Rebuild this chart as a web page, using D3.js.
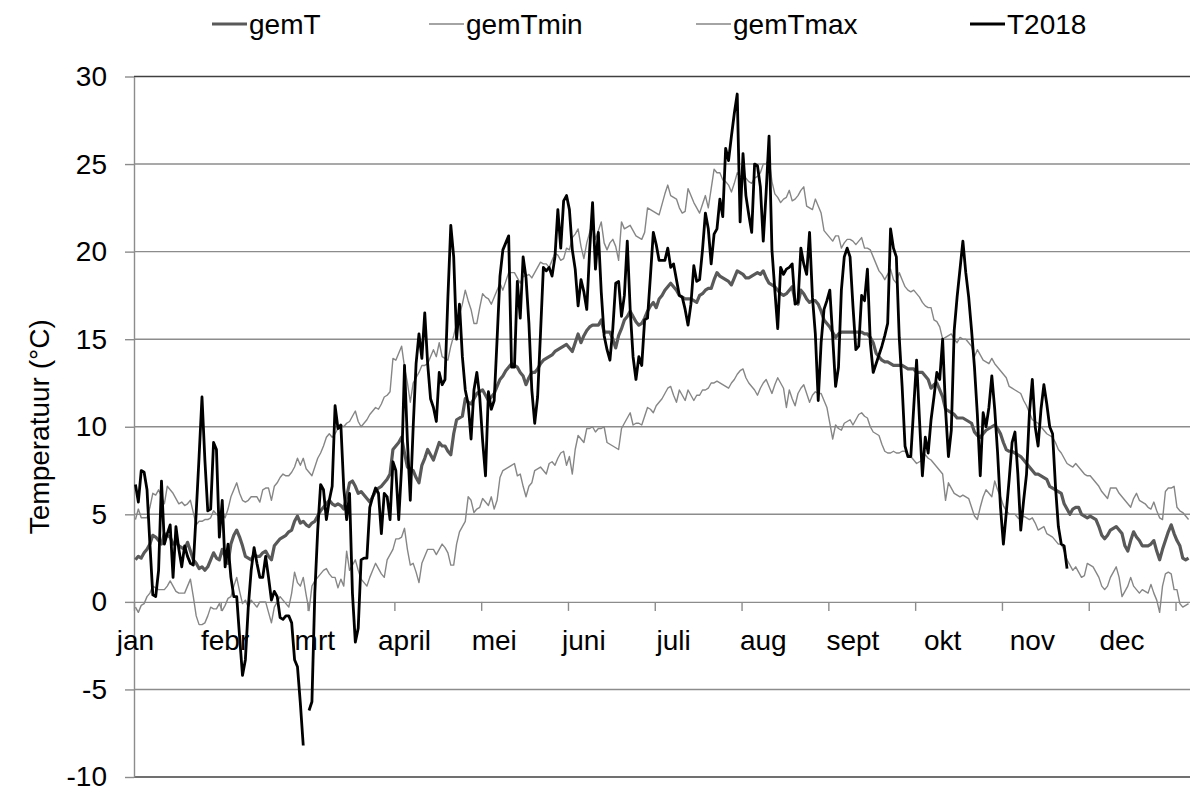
<!DOCTYPE html>
<html>
<head>
  <title>Temperatuur 2018</title>
  <script src="https://d3js.org/d3.v7.min.js"></script>
  <style>
    body, html {
      margin: 0;
      padding: 0;
      background: #fff;
      overflow: hidden;
    }
    text {
      font-family: "Liberation Sans", Arial, sans-serif;
      fill: #000;
    }
  </style>
</head>
<body>
  <div id="chart"></div>

  <script>
    // month labels (one label every 31 days on the category axis)
    const monthLabels = ["jan", "febr", "mrt", "april", "mei", "juni", "juli", "aug", "sept", "okt", "nov", "dec"];
    const yTicks = [-10, -5, 0, 5, 10, 15, 20, 25, 30];
    const seriesNames = ["gemT", "gemTmin", "gemTmax", "T2018"];

    // long-term daily mean
    const gemT = [
      2.4, 2.6, 2.5, 2.8, 3.0, 3.3, 3.8, 3.7, 3.5, 3.3,
      3.9, 3.8, 3.7, 3.3, 3.4, 3.2, 3.1, 3.0, 3.4, 2.9,
      2.4, 2.2, 1.9, 2.0, 1.8, 2.0, 2.4, 2.8, 2.5, 2.4,
      3.0, 2.6, 2.2, 3.3, 3.8, 4.1, 3.7, 3.2, 2.6, 2.5,
      2.4, 2.7, 2.6, 2.6, 2.8, 2.9, 2.6, 2.4, 3.2, 3.4,
      3.6, 3.7, 3.8, 4.0, 4.1, 4.6, 4.9, 4.5, 4.6, 4.4,
      4.3, 4.5, 4.6, 4.9, 5.2, 5.4, 5.6, 5.8, 5.6, 5.5,
      5.6, 5.5, 5.3, 6.0, 6.8, 6.9, 6.6, 6.2, 6.3, 6.1,
      5.9, 5.7, 6.0, 6.3, 6.5, 6.6, 6.8, 7.0, 7.3, 8.7,
      8.9, 9.1, 9.4, 8.5, 7.7, 7.6, 7.5, 7.1, 6.8, 7.8,
      8.2, 8.7, 8.4, 8.1, 8.6, 9.1, 8.9, 8.9, 8.6, 8.4,
      9.6, 10.4, 10.5, 10.6, 11.6, 11.4, 11.3, 11.6, 11.9, 12.0,
      12.1, 11.8, 11.5, 11.7, 11.9, 12.3, 12.7, 12.9, 13.2, 13.4,
      13.6, 13.5, 13.4, 13.1, 12.9, 12.4, 12.8, 13.1, 13.1, 13.3,
      13.6, 13.8, 13.9, 14.0, 14.1, 14.3, 14.4, 14.5, 14.6, 14.7,
      14.5, 14.3, 14.8, 15.3, 14.8, 15.2, 15.5, 15.7, 15.8, 15.8,
      15.8, 16.1, 15.4, 15.4, 15.4, 15.0, 14.5, 15.2, 15.6, 16.1,
      16.3, 16.6, 16.3, 16.0, 15.8, 15.9, 16.2, 16.6, 16.9, 17.1,
      16.8, 17.3, 17.5, 17.8, 18.0, 18.2, 18.0, 17.8, 17.5, 17.4,
      17.3, 17.3, 17.3, 17.2, 17.1, 17.5, 17.6, 17.8, 17.9, 17.9,
      18.4, 18.8, 18.6, 18.5, 18.4, 18.3, 18.1, 18.5, 18.9, 18.8,
      18.7, 18.5, 18.5, 18.6, 18.7, 18.8, 18.7, 18.9, 18.5, 18.2,
      18.1, 18.0, 17.8, 17.6, 17.5, 17.6, 17.8, 18.0, 17.2, 17.0,
      17.8, 17.6, 17.3, 17.1, 17.2, 17.2, 17.0, 16.6, 16.1, 15.9,
      15.7, 15.4, 15.1, 15.3, 15.4, 15.4, 15.4, 15.4, 15.4, 15.4,
      15.4, 15.4, 15.3, 15.3, 15.1, 14.8, 14.2, 14.0, 13.8, 13.7,
      13.7, 13.6, 13.5, 13.5, 13.5, 13.5, 13.4, 13.3, 13.3, 13.3,
      13.1, 13.1, 13.1, 12.9, 12.7, 12.2, 12.4, 12.5, 12.1, 11.7,
      11.0, 10.9, 10.8, 10.7, 10.5, 10.5, 10.5, 10.4, 10.3, 10.2,
      9.7, 9.5, 9.4, 9.6, 9.8, 9.9, 10.0, 10.1, 9.9, 9.6,
      9.1, 8.7, 8.6, 8.6, 8.5, 8.4, 8.3, 8.1, 7.9, 7.7,
      7.5, 7.3, 7.3, 7.2, 7.1, 7.0, 6.6, 6.5, 6.4, 6.3,
      6.2, 5.6, 5.3, 5.0, 5.3, 5.4, 5.4, 5.0, 4.9, 4.8,
      4.9, 4.8, 4.7, 4.3, 3.8, 3.6, 3.8, 4.1, 4.2, 4.3,
      4.1, 3.9, 3.2, 2.9, 3.5, 4.0, 3.7, 3.5, 3.2, 3.2,
      3.2, 3.3, 3.5, 2.9, 2.4, 3.0, 3.5, 4.0, 4.4, 3.9,
      3.5, 3.2, 2.5, 2.4, 2.5
    ];

    // long-term daily minimum
    const gemTmin = [
      -0.3, -0.6, -0.2, -0.1, 0.3, 0.5, 0.9, 0.8, 0.7, 0.7,
      0.7, 0.9, 1.2, 0.9, 0.6, 0.5, 0.5, 0.5, 0.9, 1.3,
      0.3, -0.8, -1.3, -1.3, -1.2, -0.8, -0.3, -0.4, -0.4, -0.1,
      -0.5, -0.2, 0.2, 0.3, 0.9, 1.4, 0.6, -0.1, 0.1, -0.3,
      0.1, -0.1, -0.3, 0.0, 0.0, 0.0, -0.6, -1.2, -0.3, 0.0,
      0.3, 0.1, -0.1, -0.3, 0.5, 1.7, 1.1, 0.9, 1.4, 0.4,
      -0.5, 0.9, 1.2, 1.4, 1.6, 1.8, 1.9, 1.6, 1.4, 1.4,
      0.8, 1.3, 0.9, 2.9, 1.8, 2.1, 2.4, 1.8, 1.3, 1.1,
      0.9, 1.4, 1.8, 2.2, 1.9, 1.6, 1.4, 2.4, 2.7, 3.0,
      3.6, 3.6, 3.7, 4.2, 3.0, 2.1, 2.2, 1.7, 1.1, 2.2,
      2.6, 3.0, 3.0, 3.0, 2.7, 3.0, 3.3, 3.1, 2.8, 2.1,
      2.1, 3.3, 4.0, 4.3, 4.6, 6.0, 5.8, 5.1, 5.3, 5.4,
      5.9, 5.7, 5.5, 6.0, 5.3, 5.8, 7.1, 7.5, 7.6, 7.7,
      7.8, 7.9, 7.2, 7.3, 6.6, 6.0, 6.6, 6.8, 7.5, 7.6,
      7.7, 7.5, 7.3, 7.9, 8.0, 7.8, 8.2, 8.5, 8.6, 7.8,
      8.3, 7.3, 8.7, 9.5, 9.3, 9.1, 9.9, 9.9, 10.0, 9.7,
      9.9, 9.9, 10.0, 9.1, 9.0, 8.9, 8.8, 8.7, 9.9, 10.2,
      10.5, 10.8, 10.1, 10.2, 10.2, 10.1, 10.6, 11.1, 11.0, 10.8,
      11.2, 11.4, 11.6, 11.9, 12.2, 12.3, 11.8, 11.4, 12.1, 11.8,
      11.5, 12.1, 11.8, 11.5, 11.8, 11.8, 12.1, 12.1, 12.2, 12.5,
      12.5, 12.6, 12.5, 12.4, 12.3, 12.2, 12.5, 12.7, 13.0, 13.2,
      13.3, 12.8, 12.5, 12.3, 12.1, 11.8, 12.2, 12.5, 12.7, 12.3,
      11.9, 12.4, 12.8, 12.5, 12.2, 11.1, 12.1, 11.6, 11.2, 11.9,
      12.2, 12.4, 11.9, 11.4, 11.8, 12.0, 11.9, 11.9, 11.5, 11.1,
      10.2, 9.3, 10.1, 9.9, 9.8, 10.2, 10.3, 10.4, 10.1, 10.4,
      10.7, 10.8, 10.6, 10.5, 10.0, 9.7, 9.6, 9.5, 9.0, 8.6,
      8.5, 8.5, 8.6, 8.5, 8.5, 8.6, 8.6, 8.4, 8.3, 8.1,
      7.9, 8.0, 8.1, 8.4, 8.2, 8.1, 7.9, 7.7, 7.5, 7.3,
      5.8, 6.8, 6.5, 6.2, 6.1, 6.0, 6.1, 6.0, 5.9, 5.4,
      4.9, 4.7, 5.4, 6.0, 6.4, 6.2, 6.0, 6.9, 6.4, 6.0,
      5.5, 5.2, 5.0, 5.0, 5.0, 4.8, 4.7, 4.9, 4.8, 4.7,
      4.8, 4.5, 4.1, 4.2, 4.3, 3.9, 3.8, 3.7, 3.5, 3.3,
      3.3, 2.9, 2.4, 2.1, 1.8, 2.0, 1.7, 1.4, 1.5, 2.2,
      2.1, 2.0, 1.7, 1.4, 0.9, 0.7, 0.9, 1.4, 1.7, 2.0,
      1.4, 0.3, 0.6, 0.9, 1.4, 0.9, 0.7, 0.5, 0.7, 0.6,
      0.5, 1.0, 0.5, 0.1, -0.6, 0.9, 1.6, 1.7, 1.6, 0.7,
      0.7, -0.1, -0.3, -0.2, -0.1
    ];

    // long-term daily maximum
    const gemTmax = [
      4.7, 5.3, 4.8, 4.8, 4.8, 5.4, 6.2, 6.1, 6.4, 6.0,
      5.6, 6.6, 6.4, 6.2, 5.9, 5.6, 5.7, 5.5, 5.6, 5.8,
      5.1, 4.4, 4.6, 4.6, 4.7, 4.7, 4.8, 5.2, 5.0, 4.9,
      5.1, 4.8, 5.3, 6.0, 6.4, 6.8, 6.2, 5.8, 5.7, 5.8,
      6.0, 6.0, 6.0, 5.7, 6.4, 6.5, 6.5, 5.8, 6.6, 6.8,
      7.1, 7.3, 7.2, 7.2, 7.4, 7.7, 8.2, 7.8, 8.2, 7.6,
      7.4, 7.2, 7.7, 8.2, 8.5, 8.9, 9.4, 9.6, 9.4, 9.6,
      9.9, 10.1, 10.0, 10.2, 10.3, 10.6, 10.9, 10.3, 10.0, 10.2,
      10.4, 10.7, 10.9, 11.1, 11.0, 11.3, 11.7, 11.8, 12.0, 13.9,
      13.8, 14.2, 14.6, 13.4, 12.5, 11.4, 12.5, 12.8, 13.1, 13.5,
      13.5, 13.6, 14.0, 14.4, 14.0, 14.8, 14.0, 13.9, 13.8, 14.6,
      15.2, 15.9, 16.4, 17.0, 17.8, 17.2, 16.7, 15.9, 15.9, 16.8,
      17.6, 17.4, 17.3, 17.0, 17.4, 17.8, 18.2, 17.8, 18.3, 18.8,
      18.8, 18.8, 18.5, 18.2, 18.6, 18.6, 18.7, 18.5, 18.8, 19.1,
      19.4, 19.3, 19.3, 19.1, 19.5, 19.9, 19.8, 19.5, 19.6, 20.2,
      20.1, 20.8, 21.0, 21.3, 20.3, 19.6, 20.5, 21.1, 21.7, 20.7,
      21.2, 21.7, 20.5, 20.1, 20.5, 20.7, 20.3, 19.5, 21.7, 21.3,
      21.4, 21.5, 21.2, 20.9, 20.8, 20.7, 21.1, 22.5, 22.4, 22.3,
      22.2, 22.1, 22.7, 23.3, 23.8, 23.2, 23.1, 23.0, 22.5, 22.2,
      22.3, 23.6, 23.2, 22.8, 22.5, 22.2, 22.7, 23.2, 22.5, 23.6,
      24.7, 24.5, 24.5, 24.1, 24.0, 23.8, 23.4, 23.9, 24.5, 24.3,
      24.3, 24.2, 24.0, 23.9, 24.2, 24.3, 24.5, 25.0, 25.0, 25.3,
      24.0, 23.3, 23.1, 22.8, 23.0, 23.1, 23.5, 22.9, 23.0, 23.2,
      23.5, 23.7, 22.6, 22.5, 22.4, 23.0, 22.6, 22.2, 21.2, 21.0,
      20.8, 20.6, 20.9, 20.9, 20.2, 20.5, 20.7, 20.7, 20.6, 20.4,
      20.6, 20.8, 20.2, 20.2, 20.1, 19.7, 19.3, 18.9, 18.7, 18.4,
      18.7, 19.0, 18.4, 18.2, 18.8, 18.4, 18.0, 17.8, 17.7, 17.8,
      17.6, 17.4, 17.1, 16.9, 16.8, 16.8, 16.1, 16.0, 15.7, 15.0,
      15.1, 15.2, 15.3, 15.0, 14.8, 15.1, 15.0, 15.0, 14.8, 14.6,
      14.0, 14.4, 14.1, 13.8, 13.7, 13.6, 13.9, 13.6, 13.4, 13.2,
      13.0, 12.8, 12.3, 12.2, 12.1, 12.0, 11.9, 11.5, 11.2, 10.8,
      10.4, 10.3, 10.2, 10.0, 9.8, 9.6, 9.5, 9.4, 9.1, 8.7,
      8.5, 8.2, 7.9, 7.8, 7.7, 7.9, 7.7, 7.5, 7.3, 7.2,
      7.2, 7.0, 6.8, 6.6, 6.3, 6.1, 5.9, 6.5, 6.5, 6.5,
      6.2, 6.0, 5.8, 5.6, 5.4, 5.9, 6.2, 5.8, 5.7, 5.6,
      5.4, 5.3, 5.7, 5.2, 4.8, 4.7, 6.3, 6.5, 6.5, 6.6,
      5.4, 5.2, 5.1, 4.9, 4.7
    ];

    // daily mean 2018 (up to mid november, one missing day early march)
    const T2018 = [
      6.7, 5.7, 7.5, 7.4, 6.4, 3.3, 0.4, 0.3, 1.8, 6.9,
      3.3, 3.9, 4.4, 1.4, 4.3, 3.0, 2.0, 3.2, 2.6, 2.2,
      2.1, 5.1, 8.3, 11.7, 8.1, 5.2, 5.3, 9.1, 8.7, 3.7,
      5.8, 2.0, 3.3, 1.4, 0.3, 0.3, -2.0, -4.2, -3.3, -0.3,
      1.8, 3.1, 2.2, 1.4, 1.4, 2.6, 1.4, 0.1, 0.6, 0.3,
      -0.9, -1.0, -0.8, -0.8, -1.2, -3.3, -3.7, -5.8, -8.2, null,
      -6.2, -5.7, 0.5, 4.1, 6.7, 6.4, 4.7, 5.8, 6.6, 11.2,
      9.9, 10.1, 6.5, 4.7, 6.2, 0.5, -2.3, -1.5, 2.4, 2.5,
      2.5, 5.4, 6.0, 6.5, 6.2, 3.9, 6.2, 6.0, 4.7, 8.0,
      7.5, 4.7, 7.7, 13.5, 9.2, 5.8, 10.0, 13.6, 15.3, 13.9,
      16.5, 13.6, 11.6, 11.1, 10.3, 13.1, 12.4, 12.7, 17.4, 21.5,
      19.7, 15.0, 17.0, 14.0, 12.1, 11.3, 9.3, 12.1, 13.1, 11.7,
      9.2, 7.2, 12.0, 11.0, 11.5, 15.0, 18.6, 20.1, 20.5, 20.9,
      13.4, 13.4, 18.3, 16.2, 19.7, 18.5, 15.9, 12.1, 10.2, 11.7,
      15.3, 19.1, 18.9, 19.1, 18.6, 19.7, 22.4, 20.2, 22.9, 23.2,
      22.4, 20.1, 19.0, 16.9, 18.4, 17.7, 16.7, 20.1, 22.8, 19.0,
      21.1, 17.7, 15.2, 14.4, 13.8, 15.6, 18.2, 18.3, 16.3, 17.5,
      20.6, 16.7, 14.0, 12.7, 14.0, 13.5, 16.1, 16.2, 18.6, 21.1,
      20.4, 19.5, 19.5, 19.5, 20.2, 19.1, 19.3, 18.4, 17.5, 17.4,
      16.7, 15.8, 17.0, 19.2, 18.3, 18.4, 20.1, 22.2, 21.3, 19.3,
      21.0, 21.3, 23.0, 22.0, 25.9, 25.2, 26.6, 27.9, 29.0, 21.7,
      25.6, 23.2, 22.1, 21.1, 25.0, 24.9, 23.7, 20.6, 23.4, 26.6,
      20.1, 17.8, 15.6, 19.1, 18.7, 19.0, 19.1, 19.3, 17.0, 17.1,
      20.2, 19.3, 18.7, 21.1, 17.4, 15.3, 11.5, 14.8, 16.7, 17.2,
      17.8, 15.1, 12.3, 13.4, 17.8, 19.7, 20.2, 19.7, 16.9, 14.4,
      14.6, 17.5, 17.2, 19.0, 14.8, 13.1, 13.6, 14.1, 14.6, 15.2,
      15.9, 21.3, 20.2, 19.7, 15.1, 12.3, 8.9, 8.3, 8.3, 11.1,
      13.8, 10.4, 7.2, 9.4, 8.5, 10.4, 11.7, 13.1, 12.7, 15.0,
      11.0, 8.3, 9.8, 15.5, 17.4, 19.0, 20.6, 18.8, 17.4, 15.5,
      13.4, 10.7, 7.2, 10.8, 10.0, 11.1, 12.9, 11.0, 8.5, 5.4,
      3.3, 5.1, 7.0, 9.1, 9.7, 7.3, 4.1, 5.8, 7.3, 10.8,
      12.7, 10.0, 8.9, 11.0, 12.4, 11.3, 10.0, 9.6, 6.6, 4.3,
      3.3, 3.2, 1.9
    ];

    const width = 1190;
    const height = 792;

    const svg = d3.select("#chart")
      .append("svg")
      .attr("width", width)
      .attr("height", height);

    svg.append("rect").attr("width", width).attr("height", height).attr("fill", "#fff");

    // category axis: one slot per day
    const x = d3.scaleLinear().domain([0, 365]).range([134, 1190]);
    const y = d3.scaleLinear().domain([-10, 30]).range([777, 76.5]);

    // horizontal gridlines
    svg.append("g")
      .selectAll("line")
      .data(yTicks.filter(v => v !== 0 && v !== -10 && v !== 30))
      .join("line")
      .attr("x1", x(0))
      .attr("x2", x(365))
      .attr("y1", d => y(d))
      .attr("y2", d => y(d))
      .attr("stroke", "#8c8c8c")
      .attr("stroke-width", 1.4);

    // plot area border top and bottom
    svg.append("g")
      .selectAll("line")
      .data([-10, 30])
      .join("line")
      .attr("x1", x(0))
      .attr("x2", x(365))
      .attr("y1", d => y(d))
      .attr("y2", d => y(d))
      .attr("stroke", "#404040")
      .attr("stroke-width", 1.6);

    // y axis (plain hyphen for negatives, like the original)
    const yAxis = svg.append("g")
      .attr("transform", `translate(${x(0)},0)`)
      .call(d3.axisLeft(y).tickValues(yTicks).tickSize(9).tickPadding(18)
        .tickSizeOuter(0).tickFormat(d => String(d)));
    yAxis.select(".domain").attr("stroke", "#8c8c8c").attr("stroke-width", 1.4);
    yAxis.selectAll(".tick line").attr("stroke", "#8c8c8c").attr("stroke-width", 1.4);
    yAxis.selectAll(".tick text")
      .attr("font-family", "Liberation Sans, Arial, sans-serif")
      .attr("font-size", 28)
      .attr("fill", "#000")
      .attr("dy", "0.32em");

    // x axis on the zero line, tick marks every 30 days
    const xAxis = svg.append("g")
      .attr("transform", `translate(0,${y(0)})`)
      .call(d3.axisBottom(x).tickValues(d3.range(0, 361, 30)).tickSize(9).tickFormat("").tickSizeOuter(0));
    xAxis.select(".domain").attr("stroke", "#8c8c8c").attr("stroke-width", 1.4);
    xAxis.selectAll(".tick line").attr("stroke", "#8c8c8c").attr("stroke-width", 1.4);

    svg.append("g")
      .selectAll("text")
      .data(monthLabels)
      .join("text")
      .attr("x", (d, i) => x(i * 31 + 0.5))
      .attr("y", y(0) + 48)
      .attr("text-anchor", "middle")
      .attr("font-size", 28)
      .text(d => d);

    // y axis title
    svg.append("text")
      .attr("transform", `translate(49,${(y(30) + y(-10)) / 2}) rotate(-90)`)
      .attr("text-anchor", "middle")
      .attr("font-size", 28)
      .text("Temperatuur (°C)");

    // series
    const styles = {
      gemT: { color: "#595959", width: 3.2 },
      gemTmin: { color: "#868686", width: 1.4 },
      gemTmax: { color: "#868686", width: 1.4 },
      T2018: { color: "#000000", width: 2.8 }
    };
    const seriesData = { gemT, gemTmin, gemTmax, T2018 };

    const line = d3.line()
      .defined(d => d != null)
      .x((d, i) => x(i + 0.5))
      .y(d => y(d));

    svg.append("g")
      .selectAll("path")
      .data(seriesNames)
      .join("path")
      .attr("d", name => line(seriesData[name]))
      .attr("fill", "none")
      .attr("stroke", name => styles[name].color)
      .attr("stroke-width", name => styles[name].width)
      .attr("stroke-linejoin", "round");

    // legend
    const legendX = [212, 429, 696, 970];
    const legend = svg.append("g")
      .selectAll("g")
      .data(seriesNames)
      .join("g")
      .attr("transform", (d, i) => `translate(${legendX[i]},24)`);

    legend.append("line")
      .attr("x1", 0)
      .attr("x2", 35)
      .attr("stroke", d => styles[d].color)
      .attr("stroke-width", d => styles[d].width);

    legend.append("text")
      .attr("x", 37)
      .attr("y", 10)
      .attr("font-size", 28)
      .text(d => d);
  </script>
</body>
</html>
